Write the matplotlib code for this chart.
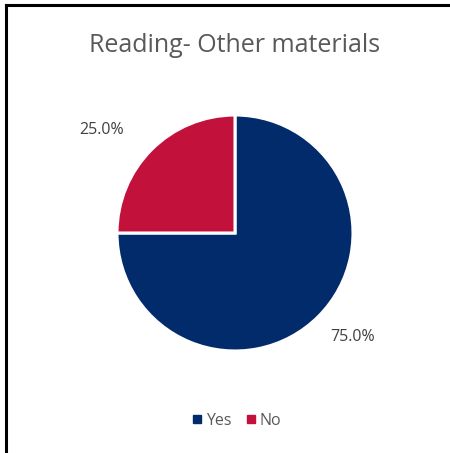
import matplotlib
matplotlib.use("Agg")
import matplotlib.pyplot as plt
from matplotlib.lines import Line2D

title = "Reading- Other materials"
categories = ["Yes", "No"]
values = [75.0, 25.0]
colors = ["#022B6B", "#C2123C"]

plt.rcParams['font.family'] = ['Open Sans', 'DejaVu Sans']

W, H = 450, 453
fig = plt.figure(figsize=(W / 100, H / 100), dpi=100)

# outer frame (top and left edges visible)
fig.add_artist(Line2D([6 / W, 6 / W], [0, 1 - 4.5 / H], color="black", lw=2.2, transform=fig.transFigure))
fig.add_artist(Line2D([6 / W, 1], [1 - 4.5 / H, 1 - 4.5 / H], color="black", lw=2.2, transform=fig.transFigure))

cx, cy, r = 235, 233, 118
ax = fig.add_axes([(cx - r) / W, (H - cy - r) / H, 2 * r / W, 2 * r / H])
wedges, texts, autotexts = ax.pie(
    values, colors=colors, startangle=90, counterclock=False,
    autopct="%1.1f%%", pctdistance=1.38,
    wedgeprops=dict(edgecolor="white", linewidth=2.2),
    textprops=dict(color="#404040", fontsize=11.5),
)
ax.set_xlim(-1, 1)
ax.set_ylim(-1, 1)
ax.set_aspect("equal")
ax.axis("off")

label_pos = [(1.0, -0.88), (-1.13, 0.87)]
for t, p in zip(autotexts, label_pos):
    t.set_position(p)
    t.set_clip_on(False)

fig.text(cx / W, 1 - 45 / H, title, ha="center", va="center", fontsize=18, color="#595959")

handles = [Line2D([], [], marker="s", linestyle="none", markersize=5.5,
                  markerfacecolor=c, markeredgecolor=c) for c in colors]
fig.legend(handles, categories, loc="center", bbox_to_anchor=(237 / W, 1 - 421 / H),
           ncol=2, frameon=False, fontsize=11.5, handletextpad=0.25, columnspacing=0.9,
           labelcolor="#595959", handlelength=0.6)

fig.savefig("out.png", dpi=100)
